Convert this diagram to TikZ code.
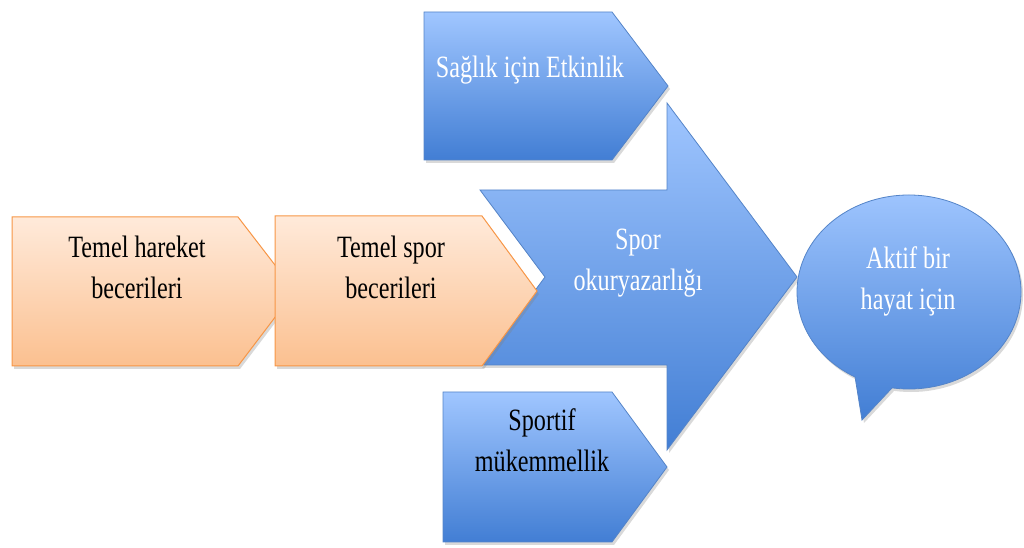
\documentclass[tikz,border=0pt]{standalone}
\usepackage{fontspec}
\setmainfont{Liberation Serif}[FakeStretch=0.78]
\usetikzlibrary{
    calc,
    shadows,
}
\definecolor{bluetop}{RGB}{160,198,255}
\definecolor{bluebot}{RGB}{66,126,212}
\definecolor{blueedge}{RGB}{84,132,200}
\definecolor{orangetop}{RGB}{255,234,218}
\definecolor{orangebot}{RGB}{251,192,144}
\definecolor{orangeedge}{RGB}{247,150,70}

\begin{document}
\begin{tikzpicture}[x=1pt, y=1pt,
    shade/.style = {drop shadow={shadow xshift=2pt, shadow yshift=-3pt, opacity=0.3}},
    blueshape/.style = {shade, draw=blueedge, line width=0.8pt, top color=bluetop, bottom color=bluebot},
    orangeshape/.style = {shade, draw=orangeedge, line width=1pt, top color=orangetop, bottom color=orangebot},
    label/.style = {align=center, font=\fontsize{31}{41}\selectfont},
    whitelabel/.style = {label, text=white}]
    \useasboundingbox (0,0) rectangle (1024,548);
    % big arrow
    \path[blueshape] (480,358) -- (667,358) -- (667,445) -- (797,271) -- (667,98)
        -- (667,183) -- (480,183) -- (545,271) -- cycle;
    % upper and lower boxes
    \path[blueshape] (424,536) -- (612,536) -- (668,462) -- (612,388) -- (424,388) -- cycle;
    \path[blueshape] (443,156) -- (612,156) -- (667,81) -- (612,6) -- (443,6) -- cycle;
    % orange steps
    \path[orangeshape] (12,331) -- (238,331) -- (295,257) -- (238,182) -- (12,182) -- cycle;
    \path[orangeshape] (275,332) -- (482,332) -- (537,257) -- (482,182) -- (275,182) -- cycle;
    % speech bubble
    \path[blueshape] (862,128) -- ($(909,256)+(261.3:112pt and 97pt)$)
        arc[start angle=261.3, end angle=601.2, x radius=112pt, y radius=97pt] -- cycle;

    \node[label] (hareket) at (137,281) {Temel hareket\\becerileri};
    \node[label] (spor) at (391,281) {Temel spor\\becerileri};
    \node[whitelabel] (okuryazar) at (638,285) {Spor\\okuryazarlığı};
    \node[whitelabel] (saglik) at (530,478) {Sağlık için Etkinlik};
    \node[label] (sportif) at (542,108) {Sportif\\mükemmellik};
    \node[whitelabel] (aktif) at (908,267) {Aktif bir\\hayat için};
\end{tikzpicture}
\end{document}
